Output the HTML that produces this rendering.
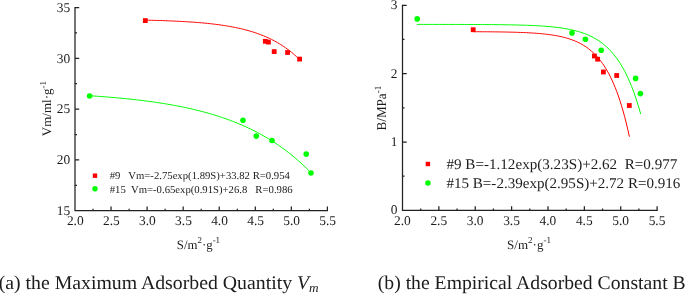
<!DOCTYPE html>
<html><head><meta charset="utf-8"><title>chart</title>
<style>
html,body{margin:0;padding:0;background:#fff;}
body{width:685px;height:294px;overflow:hidden;position:relative;font-family:"Liberation Serif",serif;}
svg{position:absolute;left:0;top:0;display:block;will-change:transform;text-rendering:geometricPrecision;}
</style></head><body>
<svg width="685" height="294" viewBox="0 0 685 294">
<g stroke="#222" stroke-width="1.25" fill="none">
<path d="M75.0,6.97 V210.65 H328.02"/>
<path d="M111.06,210.65 v-4.2 M147.11,210.65 v-4.2 M183.17,210.65 v-4.2 M219.23,210.65 v-4.2 M255.29,210.65 v-4.2 M291.34,210.65 v-4.2 M327.40,210.65 v-4.2 M93.03,210.65 v-2.0 M129.09,210.65 v-2.0 M165.14,210.65 v-2.0 M201.20,210.65 v-2.0 M237.26,210.65 v-2.0 M273.31,210.65 v-2.0 M309.37,210.65 v-2.0 M75.0,7.60 h4.2 M75.0,58.36 h4.2 M75.0,109.12 h4.2 M75.0,159.89 h4.2 M75.0,32.98 h2.0 M75.0,83.74 h2.0 M75.0,134.51 h2.0 M75.0,185.27 h2.0"/>
<path d="M402.5,4.67 V210.4 H657.73"/>
<path d="M438.87,210.4 v-4.2 M475.24,210.4 v-4.2 M511.61,210.4 v-4.2 M547.99,210.4 v-4.2 M584.36,210.4 v-4.2 M620.73,210.4 v-4.2 M657.10,210.4 v-4.2 M420.69,210.4 v-2.0 M457.06,210.4 v-2.0 M493.43,210.4 v-2.0 M529.80,210.4 v-2.0 M566.17,210.4 v-2.0 M602.54,210.4 v-2.0 M638.91,210.4 v-2.0 M402.5,5.30 h4.2 M402.5,73.67 h4.2 M402.5,142.03 h4.2 M402.5,39.48 h2.0 M402.5,107.85 h2.0 M402.5,176.22 h2.0"/>
</g>
<g fill="none" stroke-width="1.0" stroke-linecap="butt" stroke-linejoin="round">
<path stroke="#ff0000" d="M145.30,20.14 L146.86,20.18 L148.41,20.21 L149.97,20.25 L151.53,20.29 L153.08,20.33 L154.64,20.37 L156.20,20.42 L157.75,20.46 L159.31,20.51 L160.87,20.56 L162.42,20.61 L163.98,20.67 L165.54,20.72 L167.09,20.78 L168.65,20.84 L170.21,20.90 L171.76,20.97 L173.32,21.03 L174.87,21.10 L176.43,21.18 L177.99,21.25 L179.54,21.33 L181.10,21.41 L182.66,21.50 L184.21,21.58 L185.77,21.68 L187.33,21.77 L188.88,21.87 L190.44,21.97 L192.00,22.08 L193.55,22.19 L195.11,22.30 L196.67,22.42 L198.22,22.55 L199.78,22.68 L201.34,22.81 L202.89,22.95 L204.45,23.10 L206.01,23.25 L207.56,23.40 L209.12,23.57 L210.68,23.74 L212.23,23.91 L213.79,24.10 L215.35,24.29 L216.90,24.48 L218.46,24.69 L220.02,24.90 L221.57,25.12 L223.13,25.35 L224.68,25.59 L226.24,25.84 L227.80,26.10 L229.35,26.37 L230.91,26.65 L232.47,26.94 L234.02,27.24 L235.58,27.55 L237.14,27.88 L238.69,28.21 L240.25,28.56 L241.81,28.93 L243.36,29.31 L244.92,29.70 L246.48,30.11 L248.03,30.54 L249.59,30.98 L251.15,31.44 L252.70,31.92 L254.26,32.42 L255.82,32.93 L257.37,33.47 L258.93,34.03 L260.49,34.60 L262.04,35.21 L263.60,35.83 L265.16,36.48 L266.71,37.16 L268.27,37.86 L269.83,38.59 L271.38,39.35 L272.94,40.13 L274.49,40.95 L276.05,41.80 L277.61,42.69 L279.16,43.61 L280.72,44.56 L282.28,45.55 L283.83,46.58 L285.39,47.66 L286.95,48.77 L288.50,49.93 L290.06,51.13 L291.62,52.38 L293.17,53.68 L294.73,55.03 L296.29,56.43 L297.84,57.88 L299.40,59.40"/>
<path stroke="#00ff00" d="M89.60,95.75 L91.84,95.89 L94.07,96.04 L96.31,96.19 L98.54,96.35 L100.78,96.51 L103.01,96.68 L105.25,96.85 L107.48,97.02 L109.72,97.20 L111.95,97.39 L114.19,97.58 L116.42,97.78 L118.66,97.98 L120.89,98.19 L123.13,98.40 L125.37,98.62 L127.60,98.85 L129.84,99.08 L132.07,99.32 L134.31,99.56 L136.54,99.82 L138.78,100.08 L141.01,100.34 L143.25,100.62 L145.48,100.90 L147.72,101.20 L149.95,101.49 L152.19,101.80 L154.43,102.12 L156.66,102.45 L158.90,102.78 L161.13,103.13 L163.37,103.48 L165.60,103.85 L167.84,104.22 L170.07,104.61 L172.31,105.01 L174.54,105.41 L176.78,105.84 L179.01,106.27 L181.25,106.71 L183.48,107.17 L185.72,107.64 L187.96,108.12 L190.19,108.62 L192.43,109.13 L194.66,109.66 L196.90,110.20 L199.13,110.76 L201.37,111.33 L203.60,111.92 L205.84,112.53 L208.07,113.15 L210.31,113.79 L212.54,114.45 L214.78,115.13 L217.02,115.83 L219.25,116.54 L221.49,117.28 L223.72,118.04 L225.96,118.82 L228.19,119.63 L230.43,120.45 L232.66,121.30 L234.90,122.18 L237.13,123.08 L239.37,124.00 L241.60,124.95 L243.84,125.93 L246.07,126.94 L248.31,127.97 L250.55,129.04 L252.78,130.13 L255.02,131.26 L257.25,132.41 L259.49,133.61 L261.72,134.83 L263.96,136.09 L266.19,137.39 L268.43,138.72 L270.66,140.09 L272.90,141.51 L275.13,142.96 L277.37,144.45 L279.61,145.98 L281.84,147.56 L284.08,149.19 L286.31,150.86 L288.55,152.58 L290.78,154.34 L293.02,156.16 L295.25,158.03 L297.49,159.95 L299.72,161.93 L301.96,163.97 L304.19,166.06 L306.43,168.21 L308.66,170.43 L310.90,172.70"/>
<path stroke="#00ff00" d="M416.90,24.41 L419.16,24.41 L421.42,24.41 L423.68,24.41 L425.94,24.41 L428.20,24.42 L430.46,24.42 L432.72,24.42 L434.98,24.42 L437.25,24.42 L439.51,24.43 L441.77,24.43 L444.03,24.43 L446.29,24.43 L448.55,24.44 L450.81,24.44 L453.07,24.44 L455.33,24.45 L457.59,24.45 L459.85,24.46 L462.11,24.46 L464.37,24.47 L466.63,24.48 L468.89,24.48 L471.15,24.49 L473.42,24.50 L475.68,24.51 L477.94,24.52 L480.20,24.53 L482.46,24.55 L484.72,24.56 L486.98,24.58 L489.24,24.59 L491.50,24.61 L493.76,24.63 L496.02,24.65 L498.28,24.68 L500.54,24.70 L502.80,24.73 L505.06,24.77 L507.32,24.80 L509.58,24.84 L511.85,24.88 L514.11,24.93 L516.37,24.98 L518.63,25.03 L520.89,25.10 L523.15,25.16 L525.41,25.24 L527.67,25.32 L529.93,25.40 L532.19,25.50 L534.45,25.60 L536.71,25.72 L538.97,25.85 L541.23,25.99 L543.49,26.14 L545.75,26.31 L548.02,26.49 L550.28,26.69 L552.54,26.91 L554.80,27.15 L557.06,27.41 L559.32,27.70 L561.58,28.02 L563.84,28.37 L566.10,28.75 L568.36,29.17 L570.62,29.62 L572.88,30.13 L575.14,30.68 L577.40,31.28 L579.66,31.94 L581.92,32.66 L584.18,33.46 L586.45,34.32 L588.71,35.28 L590.97,36.32 L593.23,37.47 L595.49,38.72 L597.75,40.10 L600.01,41.60 L602.27,43.26 L604.53,45.07 L606.79,47.05 L609.05,49.22 L611.31,51.61 L613.57,54.22 L615.83,57.08 L618.09,60.22 L620.35,63.66 L622.62,67.43 L624.88,71.56 L627.14,76.09 L629.40,81.05 L631.66,86.49 L633.92,92.45 L636.18,98.99 L638.44,106.15 L640.70,114.00"/>
<path stroke="#ff0000" d="M473.20,31.70 L474.78,31.71 L476.36,31.72 L477.93,31.73 L479.51,31.74 L481.09,31.75 L482.67,31.76 L484.24,31.77 L485.82,31.78 L487.40,31.79 L488.98,31.81 L490.56,31.82 L492.13,31.84 L493.71,31.85 L495.29,31.87 L496.87,31.89 L498.44,31.91 L500.02,31.94 L501.60,31.96 L503.18,31.99 L504.76,32.01 L506.33,32.04 L507.91,32.08 L509.49,32.11 L511.07,32.15 L512.64,32.19 L514.22,32.23 L515.80,32.28 L517.38,32.33 L518.96,32.38 L520.53,32.44 L522.11,32.50 L523.69,32.56 L525.27,32.63 L526.84,32.71 L528.42,32.79 L530.00,32.87 L531.58,32.96 L533.16,33.06 L534.73,33.17 L536.31,33.28 L537.89,33.41 L539.47,33.54 L541.04,33.68 L542.62,33.83 L544.20,33.99 L545.78,34.16 L547.36,34.35 L548.93,34.55 L550.51,34.76 L552.09,34.99 L553.67,35.24 L555.24,35.50 L556.82,35.79 L558.40,36.09 L559.98,36.42 L561.56,36.77 L563.13,37.14 L564.71,37.54 L566.29,37.98 L567.87,38.44 L569.44,38.93 L571.02,39.47 L572.60,40.04 L574.18,40.65 L575.76,41.31 L577.33,42.01 L578.91,42.77 L580.49,43.58 L582.07,44.45 L583.64,45.38 L585.22,46.38 L586.80,47.45 L588.38,48.60 L589.96,49.84 L591.53,51.16 L593.11,52.58 L594.69,54.10 L596.27,55.73 L597.84,57.49 L599.42,59.36 L601.00,61.38 L602.58,63.54 L604.16,65.86 L605.73,68.34 L607.31,71.01 L608.89,73.87 L610.47,76.94 L612.04,80.23 L613.62,83.76 L615.20,87.54 L616.78,91.60 L618.36,95.96 L619.93,100.63 L621.51,105.64 L623.09,111.01 L624.67,116.78 L626.24,122.96 L627.82,129.59 L629.40,136.70"/>
</g>
<g fill="#ff0000">
<rect x="142.90" y="18.20" width="4.8" height="4.8"/>
<rect x="262.90" y="38.90" width="4.8" height="4.8"/>
<rect x="266.00" y="39.70" width="4.8" height="4.8"/>
<rect x="271.80" y="49.20" width="4.8" height="4.8"/>
<rect x="285.20" y="50.10" width="4.8" height="4.8"/>
<rect x="297.20" y="56.70" width="4.8" height="4.8"/>
<rect x="470.80" y="27.30" width="4.8" height="4.8"/>
<rect x="592.00" y="53.60" width="4.8" height="4.8"/>
<rect x="595.20" y="56.80" width="4.8" height="4.8"/>
<rect x="601.00" y="69.60" width="4.8" height="4.8"/>
<rect x="614.30" y="73.10" width="4.8" height="4.8"/>
<rect x="626.90" y="103.10" width="4.8" height="4.8"/>
<rect x="92.80" y="173.50" width="4.4" height="4.4"/>
<rect x="425.70" y="161.80" width="4.4" height="4.4"/>
</g>
<g fill="#00ff00">
<circle cx="89.60" cy="96.00" r="2.8"/>
<circle cx="243.00" cy="120.30" r="2.8"/>
<circle cx="256.30" cy="136.10" r="2.8"/>
<circle cx="272.00" cy="140.50" r="2.8"/>
<circle cx="306.20" cy="154.10" r="2.8"/>
<circle cx="311.00" cy="173.00" r="2.8"/>
<circle cx="417.20" cy="18.90" r="2.8"/>
<circle cx="572.00" cy="32.90" r="2.8"/>
<circle cx="585.40" cy="39.30" r="2.8"/>
<circle cx="601.20" cy="50.30" r="2.8"/>
<circle cx="635.60" cy="78.40" r="2.8"/>
<circle cx="640.40" cy="93.60" r="2.8"/>
<circle cx="95.00" cy="188.80" r="2.75"/>
<circle cx="427.90" cy="182.90" r="2.75"/>
</g>
<g font-family="Liberation Serif, serif" fill="#1c1c1c">
<text x="70.10" y="11.80" font-size="13.4" text-anchor="end">35</text>
<text x="70.10" y="62.56" font-size="13.4" text-anchor="end">30</text>
<text x="70.10" y="113.33" font-size="13.4" text-anchor="end">25</text>
<text x="70.10" y="164.09" font-size="13.4" text-anchor="end">20</text>
<text x="70.10" y="214.85" font-size="13.4" text-anchor="end">15</text>
<text x="75.30" y="225.3" font-size="13.4" text-anchor="middle">2.0</text>
<text x="111.36" y="225.3" font-size="13.4" text-anchor="middle">2.5</text>
<text x="147.41" y="225.3" font-size="13.4" text-anchor="middle">3.0</text>
<text x="183.47" y="225.3" font-size="13.4" text-anchor="middle">3.5</text>
<text x="219.53" y="225.3" font-size="13.4" text-anchor="middle">4.0</text>
<text x="255.59" y="225.3" font-size="13.4" text-anchor="middle">4.5</text>
<text x="291.64" y="225.3" font-size="13.4" text-anchor="middle">5.0</text>
<text x="327.70" y="225.3" font-size="13.4" text-anchor="middle">5.5</text>
<text x="397.50" y="9.20" font-size="13.4" text-anchor="end">3</text>
<text x="397.50" y="77.57" font-size="13.4" text-anchor="end">2</text>
<text x="397.50" y="145.93" font-size="13.4" text-anchor="end">1</text>
<text x="397.50" y="214.30" font-size="13.4" text-anchor="end">0</text>
<text x="402.40" y="225.4" font-size="13.4" text-anchor="middle">2.0</text>
<text x="438.77" y="225.4" font-size="13.4" text-anchor="middle">2.5</text>
<text x="475.14" y="225.4" font-size="13.4" text-anchor="middle">3.0</text>
<text x="511.51" y="225.4" font-size="13.4" text-anchor="middle">3.5</text>
<text x="547.89" y="225.4" font-size="13.4" text-anchor="middle">4.0</text>
<text x="584.26" y="225.4" font-size="13.4" text-anchor="middle">4.5</text>
<text x="620.63" y="225.4" font-size="13.4" text-anchor="middle">5.0</text>
<text x="657.00" y="225.4" font-size="13.4" text-anchor="middle">5.5</text>
<text transform="translate(176.75,248.7) scale(1.0024,1)" font-size="12.8" xml:space="preserve">S/m<tspan font-size="8.959999999999999" dy="-5.376">2</tspan><tspan font-size="12.8" dy="5.376">·g</tspan><tspan font-size="8.959999999999999" dy="-5.376">-1</tspan></text>
<text transform="translate(507.04,248.7) scale(1.0167,1)" font-size="12.8" xml:space="preserve">S/m<tspan font-size="8.959999999999999" dy="-5.376">2</tspan><tspan font-size="12.8" dy="5.376">·g</tspan><tspan font-size="8.959999999999999" dy="-5.376">-1</tspan></text>
<text transform="translate(51.1,136.15) rotate(-90) scale(1.0150,1)" font-size="12.8" xml:space="preserve">Vm/ml·g<tspan font-size="8.959999999999999" dy="-5.376">-1</tspan></text>
<text transform="translate(386.3,130.48) rotate(-90) scale(0.9635,1)" font-size="13.6" xml:space="preserve">B/MPa<tspan font-size="9.52" dy="-5.712">-1</tspan></text>
<text transform="translate(109.75,179.0) scale(1.0096,1)" font-size="10.6" xml:space="preserve">#9   Vm=-2.75exp(1.89S)+33.82 R=0.954</text>
<text transform="translate(109.75,192.5) scale(1.0100,1)" font-size="10.6" xml:space="preserve">#15  Vm=-0.65exp(0.91S)+26.8   R=0.986</text>
<text transform="translate(446.44,168.8) scale(1.0215,1)" font-size="14.8" xml:space="preserve">#9 B=-1.12exp(3.23S)+2.62  R=0.977</text>
<text transform="translate(446.45,187.8) scale(1.0183,1)" font-size="14.8" xml:space="preserve">#15 B=-2.39exp(2.95S)+2.72 R=0.916</text>
<text transform="translate(-1.37,289.1) scale(1.0203,1)" font-size="19.4" xml:space="preserve">(a) the Maximum Adsorbed Quantity <tspan font-style="italic">V</tspan><tspan font-style="italic" font-size="13" dy="3.2">m</tspan></text>
<text transform="translate(377.74,289.1) scale(1.0156,1)" font-size="19.4" xml:space="preserve">(b) the Empirical Adsorbed Constant B</text>
</g>
</svg>
</body></html>
